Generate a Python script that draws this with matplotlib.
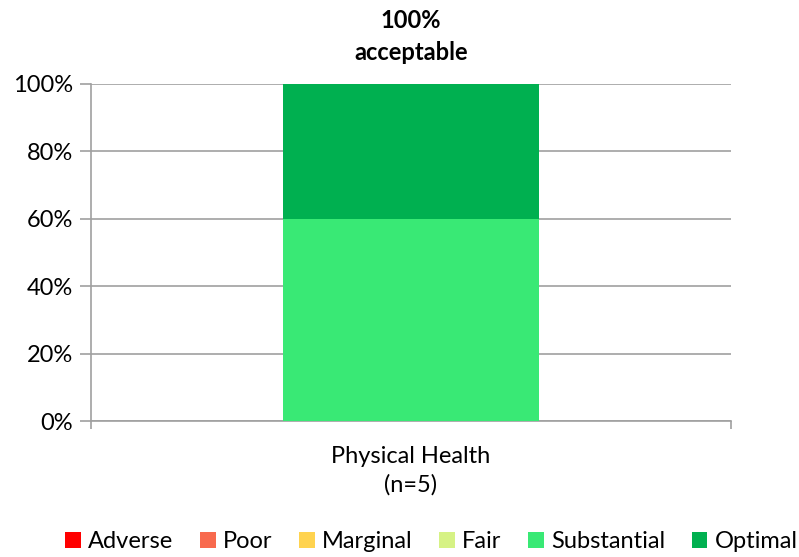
import matplotlib
matplotlib.use("Agg")
import matplotlib.pyplot as plt
from matplotlib.ticker import PercentFormatter, FixedLocator

categories = ["Physical Health\n(n=5)"]
series_names = ["Adverse", "Poor", "Marginal", "Fair", "Substantial", "Optimal"]
series_values = {
    "Adverse": [0],
    "Poor": [0],
    "Marginal": [0],
    "Fair": [0],
    "Substantial": [60],
    "Optimal": [40],
}
colors = {
    "Adverse": "#FF0000",
    "Poor": "#F86A4E",
    "Marginal": "#FFD34F",
    "Fair": "#D6F285",
    "Substantial": "#39E975",
    "Optimal": "#00B050",
}
title_text = "100%\nacceptable"
yticks = [0, 20, 40, 60, 80, 100]

plt.rcParams['font.family'] = ['Lato', 'DejaVu Sans']

fig = plt.figure(figsize=(7.99, 5.57), dpi=100)
ax = fig.add_axes([91/799, 1-421/557, 640/799, 337/557])

x = list(range(len(categories)))
bottom = [0]*len(categories)
handles = []
for name in series_names:
    vals = series_values[name]
    b = ax.bar(x, vals, width=0.4, bottom=bottom, color=colors[name], label=name, zorder=3)
    handles.append(b)
    bottom = [bb + v for bb, v in zip(bottom, vals)]

ax.set_xlim(-0.5, 0.5)
ax.set_ylim(0, 100)
ax.yaxis.set_major_locator(FixedLocator(yticks))
ax.yaxis.set_major_formatter(PercentFormatter(decimals=0))
ax.grid(axis='y', color='#A0A0A0', linewidth=1.2, zorder=0)
ax.set_axisbelow(True)

for s in ['top', 'right']:
    ax.spines[s].set_visible(False)
for s in ['left', 'bottom']:
    ax.spines[s].set_color('#A0A0A0')
    ax.spines[s].set_linewidth(1.2)

ax.set_xticks([-0.5, 0.5])
ax.set_xticklabels([])
ax.tick_params(axis='x', length=6, color='#A0A0A0', width=1.2)
ax.tick_params(axis='y', length=8, color='#A0A0A0', width=1.2, labelsize=17, pad=5)
for i, c in enumerate(categories):
    ax.text(i, -0.075, c, transform=ax.get_xaxis_transform(), ha='center', va='top',
            fontsize=17, linespacing=1.4)

ax.text(0.5, 1 + 20/337, title_text, transform=ax.transAxes, ha='center', va='bottom',
        fontsize=17, fontweight='bold', linespacing=1.45)

fig.legend(handles=handles, labels=series_names, loc='center', bbox_to_anchor=(0.54, 1-542/557),
           ncol=6, frameon=False, fontsize=17, handlelength=0.65, handleheight=0.65,
           handletextpad=0.3, columnspacing=1.15)

fig.savefig("out.png", dpi=100)
